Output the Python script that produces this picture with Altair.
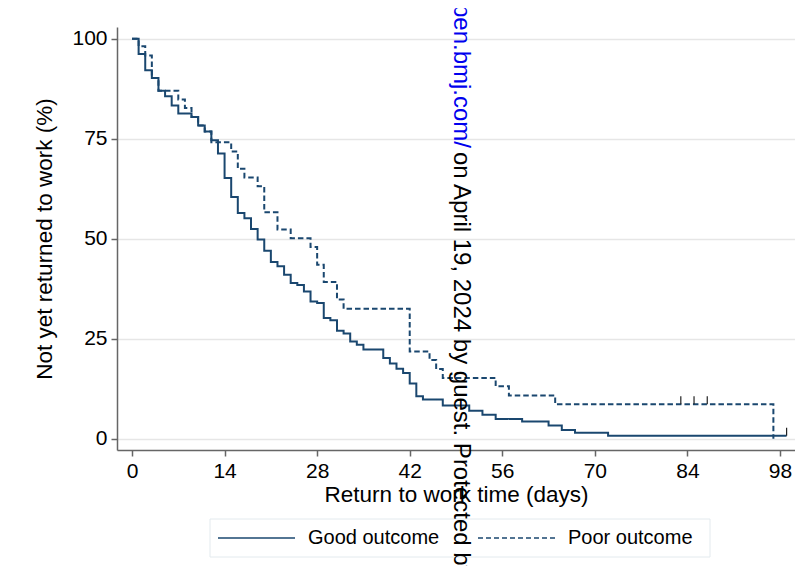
import altair as alt
import pandas as pd

# ---- data ----
series_names = ["Good outcome", "Poor outcome"]

good_days = [0, 1, 2, 3, 4, 5, 6, 7, 9, 10, 11, 12, 13, 14, 15, 16, 17, 18, 19, 20,
             21, 22, 23, 24, 25, 26, 27, 28, 29, 30, 31, 32, 33, 34, 35, 38, 39, 40, 41, 42,
             43, 44, 47, 51, 53, 55, 59, 63, 65, 67, 72, 99]
good_surv = [100, 96.2, 92.1, 90.2, 87.0, 85.6, 83.3, 81.3, 80.4, 78.3, 76.8, 74.6, 71.3, 65.2, 60.4, 56.4, 55.1, 52.4, 49.8, 47.0,
             44.2, 43.1, 41.0, 38.9, 38.4, 36.8, 34.3, 33.9, 30.2, 29.6, 27.0, 26.3, 24.3, 23.5, 22.3, 20.2, 18.8, 17.5, 16.4, 13.8,
             10.6, 9.8, 8.3, 7.0, 6.0, 4.9, 4.3, 3.3, 2.2, 1.5, 0.75, 0.75]

poor_days = [0, 1, 2, 3, 4, 7, 8, 9, 10, 11, 12, 15, 16, 17, 19, 20, 22, 24, 27, 28,
             29, 31, 32, 42, 45, 46, 47, 55, 57, 64, 97]
poor_surv = [100, 98.1, 95.8, 90.2, 87.0, 84.8, 82.7, 80.4, 78.3, 76.8, 74.1, 71.8, 67.5, 65.3, 63.1, 56.6, 52.3, 50.1, 47.9, 43.5,
             39.2, 34.8, 32.5, 21.8, 19.7, 17.4, 15.2, 13.1, 10.8, 8.6, 0]

good_censor_days = [99]
good_censor_surv = [0.75]
poor_censor_days = [83, 85, 87]
poor_censor_surv = [8.6, 8.6, 8.6]

x_ticks = [0, 14, 28, 42, 56, 70, 84, 98]
y_ticks = [0, 25, 50, 75, 100]

watermark_url = "http://bmjopen.bmj.com/"
watermark_rest = "on April 19, 2024 by guest. Protected by"

NAVY = "#1a476f"
FONT = "Liberation Sans"
DASH = [5.5, 3]

curves = pd.DataFrame({
    "day": good_days + poor_days,
    "surv": good_surv + poor_surv,
    "group": [series_names[0]] * len(good_days) + [series_names[1]] * len(poor_days),
})
censors = pd.DataFrame({
    "day": good_censor_days + poor_censor_days,
    "surv": good_censor_surv + poor_censor_surv,
})

xscale = alt.Scale(domain=[-2.27, 100.27], nice=False, zero=False)
yscale = alt.Scale(domain=[-2.83, 102.93], nice=False, zero=False)

lines = alt.Chart(curves).mark_line(
    interpolate="step-after", strokeWidth=2, color=NAVY
).encode(
    x=alt.X("day:Q", scale=xscale,
            axis=alt.Axis(values=x_ticks, title="Return to work time (days)", grid=False,
                          titlePadding=2)),
    y=alt.Y("surv:Q", scale=yscale,
            axis=alt.Axis(values=y_ticks, title="Not yet returned to work (%)", grid=True,
                          titlePadding=15)),
    strokeDash=alt.StrokeDash(
        "group:N",
        scale=alt.Scale(domain=series_names, range=[[1, 0], DASH]),
        legend=None,
    ),
)

ticks = alt.Chart(censors).transform_calculate(
    top="datum.surv + 2"
).mark_rule(color="#222222", strokeWidth=1.2).encode(
    x=alt.X("day:Q", scale=xscale),
    y=alt.Y("surv:Q", scale=yscale),
    y2="top:Q",
)

# ---- legend (drawn by hand so that the line samples can be long) ----
one = pd.DataFrame({"k": [0]})
leg_box = alt.Chart(one).mark_rect(
    fill="white", stroke="#e3eaee", strokeWidth=1
).encode(x=alt.value(93), x2=alt.value(593), y=alt.value(492), y2=alt.value(530))

leg_solid = alt.Chart(one).mark_rule(color=NAVY, strokeWidth=1.6).encode(
    x=alt.value(101), x2=alt.value(178), y=alt.value(511))
leg_dash = alt.Chart(one).mark_rule(color=NAVY, strokeWidth=1.6, strokeDash=[5, 3]).encode(
    x=alt.value(361), x2=alt.value(438), y=alt.value(511))

leg_lab1 = alt.Chart(pd.DataFrame({"t": [series_names[0]]})).mark_text(
    align="left", baseline="middle", fontSize=20, font=FONT, color="black"
).encode(text="t:N", x=alt.value(191), y=alt.value(511))
leg_lab2 = alt.Chart(pd.DataFrame({"t": [series_names[1]]})).mark_text(
    align="left", baseline="middle", fontSize=20, font=FONT, color="black"
).encode(text="t:N", x=alt.value(451), y=alt.value(511))

# ---- watermark ----
wm_blue = alt.Chart(pd.DataFrame({"t": [watermark_url]})).mark_text(
    angle=90, align="right", baseline="middle", fontSize=24, font=FONT, color="#0000ee"
).encode(text="t:N", x=alt.value(344), y=alt.value(121))

wm_black = alt.Chart(pd.DataFrame({"t": [watermark_rest]})).mark_text(
    angle=90, align="left", baseline="middle", fontSize=24, font=FONT, color="black"
).encode(text="t:N", x=alt.value(344), y=alt.value(125))

chart = alt.layer(
    lines, ticks, leg_box, leg_solid, leg_dash, leg_lab1, leg_lab2, wm_blue, wm_black
).properties(
    width=678, height=423,
    autosize=alt.AutoSizeParams(type="none"),
    padding={"left": 109, "top": 19, "right": 0, "bottom": 116},
    background="white",
).configure_view(stroke="transparent").configure_axis(
    labelFont=FONT, titleFont=FONT, labelFontSize=21, titleFontSize=22.5,
    labelColor="black", titleColor="black", titleFontWeight="normal",
    domainColor="#666666", tickColor="#666666", domainWidth=1.5, tickWidth=1.5,
    tickSize=6, labelPadding=4, gridColor="#e6e6e6", gridWidth=1.5,
)

chart.save("out.html", embed_options={"renderer": "svg", "actions": False})
